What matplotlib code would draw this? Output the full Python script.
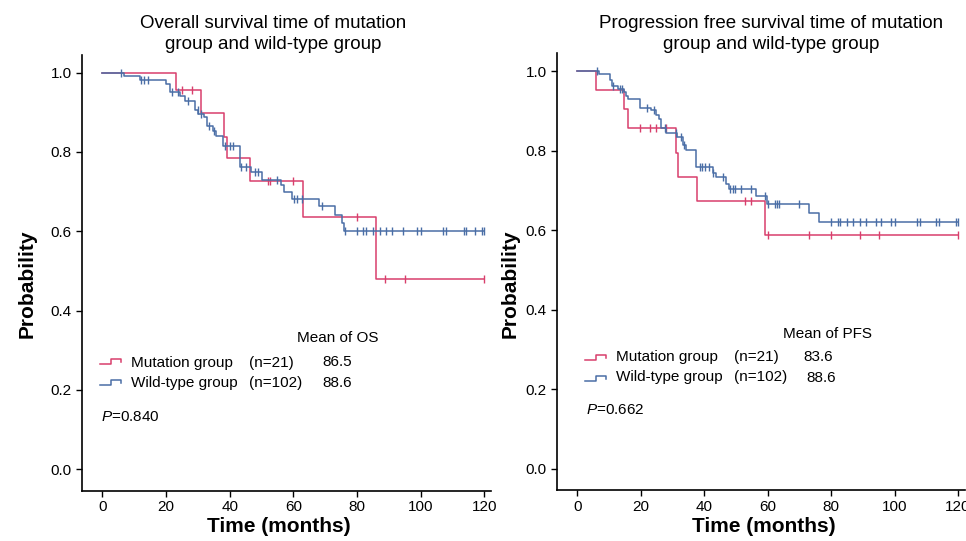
import numpy as np
import matplotlib
matplotlib.use("Agg")
import matplotlib.pyplot as plt
from matplotlib.lines import Line2D

plt.rcParams['font.family'] = ['Liberation Sans', 'DejaVu Sans']
plt.rcParams['mathtext.fontset'] = 'custom'
plt.rcParams['mathtext.rm'] = 'Liberation Sans'
plt.rcParams['mathtext.it'] = 'Liberation Sans:italic'

# ---- data (months, survival probability) ----
os_mut_t = [0, 23.2, 30.9, 38.2, 39.0, 46.3, 63.1, 86.0]
os_mut_s = [1.0, 0.955, 0.898, 0.839, 0.784, 0.727, 0.636, 0.479]
os_mut_cens = [25.0, 28.0, 52.1, 52.8, 60.0, 79.9, 88.8, 95.1, 120.0]

os_wt_t = [0, 6.9, 11.7, 20.0, 21.1, 24.3, 25.8, 29.0, 30.0, 32.0, 33.0, 34.7, 35.8,
           37.9, 43.1, 46.8, 50.2, 56.2, 57.1, 59.7, 68.2, 73.1, 75.2, 76.0]
os_wt_s = [1.0, 0.991, 0.982, 0.971, 0.950, 0.940, 0.929, 0.907, 0.896, 0.887, 0.866, 0.854, 0.841,
           0.816, 0.761, 0.749, 0.729, 0.717, 0.700, 0.681, 0.664, 0.641, 0.622, 0.601]
os_wt_cens = [5.9, 12.2, 13.2, 14.2, 21.9, 23.7, 26.8, 29.9, 30.9, 33.5, 35.2, 38.4, 40.0, 41.0,
              43.6, 45.2, 47.9, 48.9, 55.0, 60.2, 61.1, 62.8, 68.9, 76.2, 80.1, 82.0, 82.8, 84.9,
              87.2, 89.1, 90.9, 94.3, 99.0, 100.1, 106.9, 108.0, 113.5, 114.2, 117.2, 119.3, 120.0]

pfs_mut_t = [0, 5.8, 14.6, 16.0, 31.0, 31.7, 37.8, 59.0]
pfs_mut_s = [1.0, 0.952, 0.906, 0.857, 0.795, 0.734, 0.673, 0.589]
pfs_mut_cens = [19.6, 22.8, 24.9, 27.8, 53.0, 54.9, 60.1, 73.0, 79.9, 89.0, 95.1, 120.0]

pfs_wt_t = [0, 6.8, 10.2, 11.0, 12.8, 14.6, 15.3, 16.0, 19.9, 23.3, 24.9, 25.6, 26.5, 28.1,
            31.5, 33.3, 34.1, 37.5, 42.8, 43.8, 47.0, 47.8, 56.2, 59.8, 73.0, 76.2]
pfs_wt_s = [1.0, 0.994, 0.979, 0.962, 0.956, 0.948, 0.937, 0.930, 0.908, 0.902, 0.889, 0.879, 0.857, 0.845,
            0.835, 0.815, 0.801, 0.760, 0.745, 0.734, 0.717, 0.703, 0.686, 0.667, 0.643, 0.621]
pfs_wt_cens = [6.2, 11.2, 13.3, 14.0, 21.9, 24.1, 27.6, 31.2, 32.8, 33.5, 38.6, 39.4, 40.4, 41.6,
               42.8, 45.8, 48.2, 49.1, 49.6, 51.7, 54.9, 59.0, 60.1, 62.3, 62.8, 63.7, 69.9, 79.9,
               82.2, 82.9, 85.0, 86.9, 89.0, 90.9, 94.0, 95.8, 99.0, 100.0, 107.1, 107.9, 113.2,
               114.0, 119.3, 120.0]

RED = '#d83f6c'
BLUE = '#4a6ea6'
W, H = 966, 541


def px(x, y):
    # pixel position -> figure fraction
    return x / W, 1 - y / H


def draw_km(ax, t, s, cens, color):
    t = np.array(t)
    s = np.array(s)
    tt = np.append(t, 120)
    ss = np.append(s, s[-1])
    ax.step(tt, ss, where='post', color=color, lw=1.1)
    c = np.array(cens)
    cy = s[np.searchsorted(t, c, side='right') - 1]
    ax.plot(c, cy, ls='none', marker='|', ms=6, mew=1.0, color=color)


def style_ax(ax):
    ax.set_xlim(-6.5, 122.1)
    ax.set_ylim(-0.054, 1.045)
    ax.set_xticks([0, 20, 40, 60, 80, 100, 120])
    ax.set_yticks([0.0, 0.2, 0.4, 0.6, 0.8, 1.0])
    ax.set_yticklabels(['0.0', '0.2', '0.4', '0.6', '0.8', '1.0'])
    for side in ['top', 'right']:
        ax.spines[side].set_visible(False)
    for side in ['left', 'bottom']:
        ax.spines[side].set_linewidth(1.2)
    ax.tick_params(direction='out', length=4, width=1, labelsize=11, pad=3)


def legend_icon(fig, x0, y0, color):
    xs = [x0, x0 + 10.7, x0 + 10.7, x0 + 21, x0 + 21]
    ys = [y0, y0, y0 - 5, y0 - 5, y0 - 1.7]
    pts = [px(a, b) for a, b in zip(xs, ys)]
    fig.add_artist(Line2D([p[0] for p in pts], [p[1] for p in pts],
                          transform=fig.transFigure, color=color, lw=1.1))


fig = plt.figure(figsize=(9.66, 5.41), dpi=100)

ax1 = fig.add_axes([81.7 / W, 1 - 490.7 / H, 409.3 / W, 435.9 / H])
draw_km(ax1, os_mut_t, os_mut_s, os_mut_cens, RED)
draw_km(ax1, os_wt_t, os_wt_s, os_wt_cens, BLUE)
style_ax(ax1)

ax2 = fig.add_axes([556.7 / W, 1 - 490.0 / H, 408.0 / W, 436.6 / H])
draw_km(ax2, pfs_mut_t, pfs_mut_s, pfs_mut_cens, RED)
draw_km(ax2, pfs_wt_t, pfs_wt_s, pfs_wt_cens, BLUE)
style_ax(ax2)

# titles
fig.text(*px(273, 34), 'Overall survival time of mutation\ngroup and wild-type group',
         ha='center', va='center', fontsize=13.5, linespacing=1.3)
fig.text(*px(771, 34), 'Progression free survival time of mutation\ngroup and wild-type group',
         ha='center', va='center', fontsize=13.5, linespacing=1.3)

# axis labels
fig.text(*px(27, 284), 'Probability', rotation=90, ha='center', va='center',
         fontsize=15, fontweight='bold')
fig.text(*px(510, 284), 'Probability', rotation=90, ha='center', va='center',
         fontsize=15, fontweight='bold')
fig.text(*px(279, 527), 'Time (months)', ha='center', va='center', fontsize=15, fontweight='bold')
fig.text(*px(764, 527), 'Time (months)', ha='center', va='center', fontsize=15, fontweight='bold')

# legend blocks
fs = 11
fig.text(*px(297, 342), 'Mean of OS', fontsize=fs, va='baseline')
legend_icon(fig, 100, 364, RED)
legend_icon(fig, 100, 384.5, BLUE)
fig.text(*px(131, 366.5), 'Mutation group', fontsize=fs, va='baseline')
fig.text(*px(249, 366.5), '(n=21)', fontsize=fs, va='baseline')
fig.text(*px(322, 366.5), '86.5', fontsize=fs, va='baseline')
fig.text(*px(131, 387), 'Wild-type group', fontsize=fs, va='baseline')
fig.text(*px(249, 387), '(n=102)', fontsize=fs, va='baseline')
fig.text(*px(322, 387), '88.6', fontsize=fs, va='baseline')
fig.text(*px(101, 421), '$P$=0.840', fontsize=fs, va='baseline')

fig.text(*px(783, 338.5), 'Mean of PFS', fontsize=fs, va='baseline')
legend_icon(fig, 585, 360, RED)
legend_icon(fig, 585, 380.5, BLUE)
fig.text(*px(616, 361), 'Mutation group', fontsize=fs, va='baseline')
fig.text(*px(734, 361), '(n=21)', fontsize=fs, va='baseline')
fig.text(*px(803, 361), '83.6', fontsize=fs, va='baseline')
fig.text(*px(616, 381.5), 'Wild-type group', fontsize=fs, va='baseline')
fig.text(*px(734, 381.5), '(n=102)', fontsize=fs, va='baseline')
fig.text(*px(806, 381.5), '88.6', fontsize=fs, va='baseline')
fig.text(*px(586, 413.5), '$P$=0.662', fontsize=fs, va='baseline')

fig.savefig('out.png', dpi=100)
